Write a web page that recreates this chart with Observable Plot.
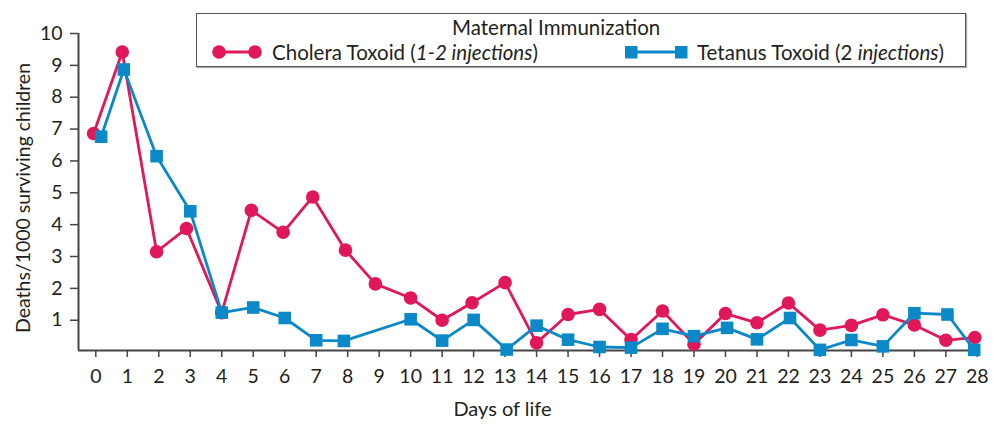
<!DOCTYPE html>
<html>
<head>
<meta charset="utf-8">
<script src="https://cdn.jsdelivr.net/npm/d3@7"></script>
<script src="https://cdn.jsdelivr.net/npm/@observablehq/plot@0.6"></script>
<style>
  html, body { margin: 0; padding: 0; background: #fff; }
  #wrap { position: relative; width: 993px; height: 425px; font-family: Lato, "Open Sans", sans-serif; color: #231f20; }
  #wrap svg { display: block; }
  .lg { position: absolute; font-size: 20.5px; line-height: 24px; white-space: nowrap; }
  #box { position: absolute; left: 196px; top: 13px; width: 768px; height: 52px; border: 1.6px solid #555; background: #fff; box-shadow: 1px 1px 1px #aaa; }
</style>
</head>
<body>
<div id="wrap"></div>
<script>
// Series names
const seriesNames = ["Cholera Toxoid", "Tetanus Toxoid"];

// Cholera Toxoid (1-2 injections): day positions and deaths/1000
const choleraDays = [-0.07, 0.84, 1.93, 2.88, 4, 4.94, 5.95, 6.89, 7.93, 8.88, 10, 11, 11.95, 13, 14, 15, 16, 17, 18, 19, 20, 21, 22, 23, 24, 25, 26, 27, 27.92];
const choleraValues = [6.86, 9.42, 3.15, 3.88, 1.24, 4.45, 3.76, 4.87, 3.20, 2.14, 1.70, 1.0, 1.55, 2.18, 0.29, 1.18, 1.34, 0.39, 1.29, 0.25, 1.21, 0.92, 1.54, 0.69, 0.84, 1.17, 0.85, 0.37, 0.46];

// Tetanus Toxoid (2 injections): no point on day 9
const tetanusDays = [0.17, 0.89, 1.93, 3, 4, 5, 6, 7, 7.88, 10, 11, 12, 13.05, 14, 15, 16, 17, 18, 19, 20.05, 21, 22.05, 23, 24, 25, 26, 27.05, 27.9];
const tetanusValues = [6.76, 8.87, 6.15, 4.42, 1.24, 1.40, 1.07, 0.37, 0.35, 1.03, 0.36, 1.01, 0.08, 0.83, 0.39, 0.16, 0.14, 0.73, 0.50, 0.76, 0.40, 1.07, 0.07, 0.38, 0.18, 1.22, 1.18, 0.07];

// Axis ticks
const xTicks = d3.range(0, 29);
const yTicks = [1, 2, 3, 4, 5, 6, 7, 8, 9, 10];

const xDomain = [-0.55, 28.1];
const yDomain = [0.05, 10];

const RED = "#e0185a";
const BLUE = "#0a88c8";
const AX = "#444";

const cholera = choleraDays.map((d, i) => ({day: d, value: choleraValues[i], series: seriesNames[0]}));
const tetanus = tetanusDays.map((d, i) => ({day: d, value: tetanusValues[i], series: seriesNames[1]}));

const chart = Plot.plot({
  width: 993,
  height: 425,
  marginLeft: 78,
  marginRight: 13,
  marginTop: 33,
  marginBottom: 75,
  style: {fontFamily: "Lato, 'Open Sans', sans-serif", fontSize: "19px", color: "#231f20", background: "#fff"},
  x: {domain: xDomain, axis: null},
  y: {domain: yDomain, axis: null},
  marks: [
    Plot.axisX({ticks: xTicks, tickSize: 7, tickPadding: 12, tickFormat: d => String(d), stroke: AX, strokeWidth: 1.5, fill: "#231f20", fontSize: 19.5, label: null}),
    Plot.axisY({ticks: yTicks, tickSize: 8, tickPadding: 8, tickFormat: d => String(d), stroke: AX, strokeWidth: 1.5, fill: "#231f20", fontSize: 19.5, label: null}),
    Plot.ruleX([xDomain[0]], {y1: yDomain[0], y2: 10, stroke: AX, strokeWidth: 2}),
    Plot.ruleY([yDomain[0]], {x1: xDomain[0], x2: xDomain[1], stroke: AX, strokeWidth: 2}),
    Plot.text(["Days of life"], {frameAnchor: "bottom", text: d => d, dx: -27, dy: 65, fontSize: 20, fill: "#231f20"}),
    Plot.text(["Deaths/1000 surviving children"], {frameAnchor: "left", textAnchor: "middle", text: d => d, rotate: -90, dx: -55, dy: 6, fontSize: 19.5, fill: "#231f20"}),
    Plot.line(cholera, {x: "day", y: "value", stroke: RED, strokeWidth: 2.8}),
    Plot.dot(cholera, {x: "day", y: "value", r: 6.8, fill: RED, symbol: "circle"}),
    Plot.line(tetanus, {x: "day", y: "value", stroke: BLUE, strokeWidth: 2.8}),
    Plot.dot(tetanus, {x: "day", y: "value", r: 7.1, fill: BLUE, symbol: "square"})
  ]
});

const wrap = document.getElementById("wrap");
wrap.appendChild(chart);

// Legend (HTML overlay inside the plot area, as in the reference)
const legendHtml = `
  <div id="box"></div>
  <div class="lg" style="left:452px; top:15px;">Maternal Immunization</div>
  <svg style="position:absolute; left:205px; top:40px;" width="62" height="24">
    <line x1="14" y1="12" x2="50" y2="12" stroke="${RED}" stroke-width="2.8"/>
    <circle cx="14" cy="12" r="6.8" fill="${RED}"/>
    <circle cx="50" cy="12" r="6.8" fill="${RED}"/>
  </svg>
  <div class="lg" style="left:272px; top:40px;">${seriesNames[0]} (<i>1-2 injections</i>)</div>
  <svg style="position:absolute; left:619px; top:40px;" width="72" height="24">
    <line x1="12" y1="12" x2="62" y2="12" stroke="${BLUE}" stroke-width="2.8"/>
    <rect x="6" y="6" width="12.5" height="12.5" fill="${BLUE}"/>
    <rect x="56" y="6" width="12.5" height="12.5" fill="${BLUE}"/>
  </svg>
  <div class="lg" style="left:697px; top:40px;">${seriesNames[1]} (2 <i>injections</i>)</div>
`;
wrap.insertAdjacentHTML("beforeend", legendHtml);
</script>
</body>
</html>
